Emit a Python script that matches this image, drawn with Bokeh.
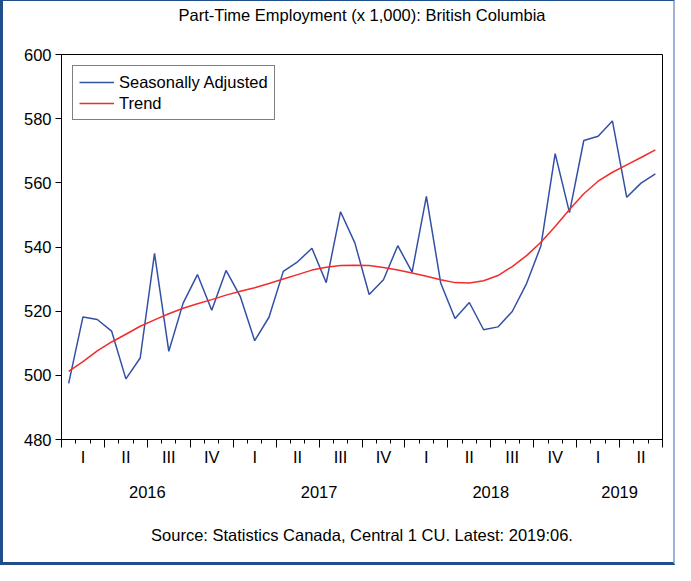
from bokeh.plotting import figure
from bokeh.models import FixedTicker, Legend, LegendItem, Range1d, ColumnDataSource, LinearAxis
from bokeh.embed import file_html
from bokeh.resources import INLINE

# ---- data (thousands of persons), monthly 2016:01 - 2019:06 ----
months = [f"{y}:{m:02d}" for y in (2016, 2017, 2018, 2019) for m in range(1, 13)][:42]
seasonally_adjusted = [
    497.5, 518.2, 517.4, 513.8, 498.9, 505.4, 538.0, 507.5, 522.5, 531.4, 520.3, 532.7,
    524.5, 510.8, 518.1, 532.4, 535.4, 539.6, 528.9, 551.0, 541.3, 525.2, 529.8, 540.4,
    532.2, 555.8, 528.8, 517.7, 522.7, 514.2, 515.1, 519.9, 528.6, 540.3, 569.1, 550.7,
    573.2, 574.5, 579.3, 555.5, 559.9, 562.8,
]
trend = [
    501.2, 504.3, 507.6, 510.4, 512.8, 515.3, 517.3, 519.2, 520.9, 522.3, 523.6, 525.0,
    526.2, 527.3, 528.6, 530.0, 531.4, 532.8, 533.7, 534.2, 534.3, 534.2, 533.6, 532.8,
    531.9, 530.9, 529.8, 528.9, 528.8, 529.5, 531.1, 533.9, 537.3, 541.5, 546.4, 551.7,
    556.6, 560.5, 563.3, 565.6, 567.9, 570.3,
]
quarter_labels = ["I", "II", "III", "IV"] * 3 + ["I", "II"]
year_labels = ["2016", "2017", "2018", "2019"]
y_ticks = [480, 500, 520, 540, 560, 580, 600]
title_text = "Part-Time Employment (x 1,000): British Columbia"
source_text = "Source: Statistics Canada, Central 1 CU. Latest: 2019:06."

FONT = "Liberation Sans"
FS = "16.5px"
BLUE = "#3350A6"
RED = "#F22B2B"

n = len(months)
x = list(range(n))
src = ColumnDataSource(dict(x=x, sa=seasonally_adjusted, trend=trend, month=months))

p = figure(width=675, height=565, output_backend="svg", toolbar_location=None,
           x_range=Range1d(-0.5, n - 0.5), y_range=Range1d(480, 600),
           x_axis_location=None,
           min_border_left=58, min_border_right=16, min_border_top=53, min_border_bottom=127)
p.background_fill_color = "white"
p.border_fill_color = "white"
p.outline_line_color = "black"
p.outline_line_width = 1
p.xgrid.visible = False
p.ygrid.visible = False
p.styles = {"border-left": "3px solid #1F4E8C", "border-bottom": "3px solid #1F4E8C",
            "border-top": "1px solid #1F4E8C", "border-right": "2px solid #9DB3D3",
            "box-sizing": "border-box"}

r_sa = p.line("x", "sa", source=src, line_color=BLUE, line_width=1.5)
r_tr = p.line("x", "trend", source=src, line_color=RED, line_width=1.5)

# y axis
ya = p.yaxis[0]
ya.ticker = FixedTicker(ticks=y_ticks)
ya.axis_line_color = "black"
ya.major_tick_out = 6
ya.major_tick_in = 0
ya.minor_tick_line_color = None
ya.major_label_text_font = FONT
ya.major_label_text_font_size = FS
ya.major_label_text_color = "black"
ya.major_label_standoff = 4


def label_axis(ticks, labels, standoff):
    ax = LinearAxis(ticker=FixedTicker(ticks=ticks),
                    major_label_overrides={t: l for t, l in zip(ticks, labels)})
    ax.axis_line_color = None
    ax.major_tick_line_color = None
    ax.minor_tick_line_color = None
    ax.major_tick_out = 0
    ax.major_tick_in = 0
    ax.major_label_standoff = standoff
    ax.major_label_text_font = FONT
    ax.major_label_text_font_size = FS
    ax.major_label_text_color = "black"
    return ax


# x axis: long ticks at quarter boundaries, short ticks at month boundaries
q_bounds = [k - 0.5 for k in range(0, n + 1, 3)]
xa = LinearAxis(ticker=FixedTicker(ticks=q_bounds,
                                   minor_ticks=[k - 0.5 for k in range(0, n + 1)]),
                major_label_overrides={t: "" for t in q_bounds})
xa.axis_line_color = "black"
xa.major_tick_out = 8
xa.major_tick_in = 0
xa.minor_tick_out = 4
xa.minor_tick_in = 0
xa.major_label_text_font_size = FS
xa.major_label_standoff = 0
p.add_layout(xa, "below")

# quarter labels (centre of each quarter)
q_ticks = [3 * qi + 1 for qi in range(len(quarter_labels))]
p.add_layout(label_axis(q_ticks, quarter_labels, 0), "below")

# year labels (centre of each year's months)
y_centres = [(12 * yi + min(12 * yi + 12, n) - 1) / 2 for yi in range(len(year_labels))]
p.add_layout(label_axis(y_centres, year_labels, 17), "below")

# source note
centre = (n - 1) / 2
p.add_layout(label_axis([centre], [source_text], 25), "below")

# chart title
p.add_layout(label_axis([centre], [title_text], 31), "above")

legend = Legend(items=[LegendItem(label="Seasonally Adjusted", renderers=[r_sa]),
                       LegendItem(label="Trend", renderers=[r_tr])],
                location="top_left")
legend.margin = 11
legend.padding = 6
legend.spacing = 1
legend.glyph_width = 35
legend.glyph_height = 20
legend.label_height = 20
legend.label_standoff = 5
legend.label_text_font = FONT
legend.label_text_font_size = FS
legend.label_text_color = "black"
legend.border_line_color = "black"
legend.border_line_width = 1
legend.background_fill_alpha = 1
p.add_layout(legend, "center")

open("out.html", "w").write(file_html(p, INLINE))
